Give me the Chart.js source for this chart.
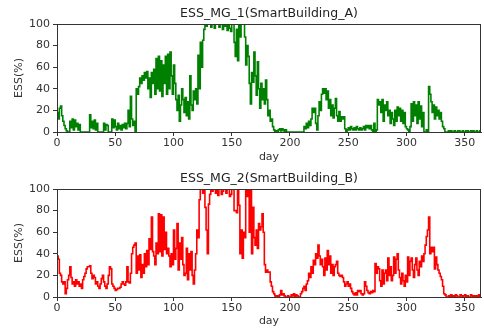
<!DOCTYPE html>
<html>
<head>
<meta charset="utf-8">
<script src="https://cdn.jsdelivr.net/npm/chart.js@4"></script>
<style>
html,body{margin:0;padding:0;background:#fff;}
canvas{display:block;}
#wrap1,#wrap2{width:484px;height:164px;position:relative;}
</style>
</head>
<body>
<div id="wrap1"><canvas id="c1" width="484" height="164"></canvas></div>
<div id="wrap2"><canvas id="c2" width="484" height="164"></canvas></div>
<script>
const titles = ["ESS_MG_1(SmartBuilding_A)", "ESS_MG_2(SmartBuilding_B)"];
const xTicks = [0, 50, 100, 150, 200, 250, 300, 350];
const yTicks = [0, 20, 40, 60, 80, 100];

const mg1 = [
18,12,22,24,15,10,6,3,1,0,
0,10,4,12,2,11,5,8,2,7,
0,0,0,0,0,0,0,0,16,4,
10,3,11,2,8,0,0,0,0,0,
8,2,7,6,0,0,0,12,4,11,
5,2,8,3,6,2,7,4,8,3,
8,20,5,33,12,6,10,0,40,35,
42,50,45,52,48,55,50,56,40,50,
32,55,45,58,35,68,40,70,38,66,
33,62,45,70,35,72,40,74,52,35,
62,45,30,20,34,10,25,40,30,18,
32,15,28,12,52,25,20,38,30,40,
26,71,40,83,60,85,95,100,98,100,
100,100,97,100,100,96,100,100,100,97,
100,100,95,100,98,100,94,100,96,93,
100,100,83,70,95,66,100,88,100,100,
100,88,62,80,70,45,26,55,46,74,
52,34,65,40,22,45,30,40,26,48,
30,15,20,10,12,5,2,0,1,0,
2,3,1,3,2,0,2,0,0,0,
0,0,0,0,0,0,0,0,0,0,
0,0,5,3,8,4,10,6,12,22,
18,22,8,2,15,28,20,35,40,36,
40,30,38,22,30,15,25,13,22,31,
15,10,19,10,14,12,14,3,0,2,
4,2,5,3,2,4,2,5,3,2,
4,2,3,5,2,6,4,6,3,6,
2,0,8,0,2,30,25,28,18,30,
10,25,20,28,15,20,8,18,12,6,
20,10,23,15,22,10,20,8,18,5,
3,2,0,5,26,10,28,15,25,8,
28,12,24,5,18,0,0,2,0,42,
35,28,18,25,12,23,15,20,12,18,
10,5,3,0,0,0,1,0,1,0,
0,1,0,0,1,1,0,0,1,0,
0,1,1,0,0,1,0,1,0,0,
1,0,0,1,0
];

const mg2 = [
38,35,22,20,14,12,14,3,8,16,
20,28,18,12,14,10,16,12,14,10,
12,8,16,19,22,26,28,28,29,22,
17,20,18,12,14,10,8,12,17,20,
14,10,8,12,20,28,26,12,10,8,
6,7,8,8,9,12,14,12,11,14,
28,14,13,22,40,46,48,50,22,38,
25,39,18,30,22,40,28,43,30,54,
44,74,42,38,30,50,40,77,42,76,
38,74,44,60,40,45,38,28,40,30,
62,35,45,68,25,50,35,55,30,20,
22,45,16,40,25,42,20,12,25,40,
62,55,90,100,100,96,100,83,62,40,
86,95,100,98,100,100,96,100,94,100,
100,95,98,100,100,96,100,100,93,95,
100,100,80,80,78,100,85,40,62,36,
60,55,100,93,100,60,100,40,83,55,
48,62,45,68,62,65,77,60,30,23,
25,23,23,14,10,5,3,1,0,1,
0,2,6,2,3,1,0,0,1,0,
0,2,1,3,0,2,1,0,0,3,
5,8,10,6,12,15,22,18,28,22,
34,30,40,36,48,38,30,35,28,20,
36,25,43,30,38,22,30,20,28,30,
33,22,20,19,20,18,14,10,12,14,
10,12,8,5,3,2,4,2,6,5,
6,3,2,3,14,10,6,4,3,5,
4,6,5,31,22,28,26,15,10,25,
12,22,25,15,36,20,28,15,20,37,
22,35,40,25,18,12,22,15,10,20,
14,37,20,33,36,25,18,30,36,25,
20,33,28,38,33,40,48,56,62,74,
40,46,42,46,26,37,30,25,22,19,
16,10,3,2,0,0,1,0,2,0,
1,0,2,1,0,0,2,1,0,1,
2,0,1,0,0,2,1,0,1,0,
1,0,2,0,0
];

const FONT = "'DejaVu Sans', sans-serif";
const TXT = '#333';

const frame = {
  id: 'frame',
  afterDatasetsDraw(chart) {
    const a = chart.chartArea, ctx = chart.ctx;
    ctx.save();
    ctx.strokeStyle = TXT;
    ctx.lineWidth = 1;
    ctx.strokeRect(Math.round(a.left) + 0.5, Math.round(a.top) + 0.5,
                   Math.round(a.right - a.left) - 1, Math.round(a.bottom - a.top));
    ctx.restore();
  }
};

function makeChart(id, title, values, color, titleTop, titleH, xH) {
  const pts = values.map((v, i) => ({x: i, y: v}));
  return new Chart(document.getElementById(id), {
    type: 'line',
    data: { datasets: [{ data: pts, borderColor: color, borderWidth: 1.6,
      pointRadius: 0, stepped: true, fill: false, tension: 0 }] },
    plugins: [frame],
    options: {
      responsive: false, animation: false,
      layout: { padding: { left: 0, right: 3, top: 0, bottom: 0 } },
      plugins: {
        legend: { display: false }, tooltip: { enabled: false },
        title: { display: true, text: title, fullSize: false, color: '#222',
          font: { family: FONT, size: 12.5, weight: 'normal' },
          padding: { top: titleTop, bottom: titleH - titleTop - 15 } }
      },
      scales: {
        x: {
          type: 'linear', min: 0, max: 364,
          afterBuildTicks: s => { s.ticks = xTicks.map(v => ({value: v})); },
          afterFit: s => { s.height = xH; },
          ticks: { color: TXT, font: { family: FONT, size: 11 }, padding: 1, maxRotation: 0, autoSkip: false },
          grid: { drawOnChartArea: false, drawTicks: true, tickLength: 4, color: TXT },
          border: { display: true, color: TXT },
          title: { display: true, text: 'day', color: TXT, font: { family: FONT, size: 11 }, padding: 0 }
        },
        y: {
          min: 0, max: 100,
          afterBuildTicks: s => { s.ticks = yTicks.map(v => ({value: v})); },
          afterFit: s => { s.width = 57; },
          ticks: { color: TXT, font: { family: FONT, size: 11 }, padding: 3 },
          grid: { drawOnChartArea: false, drawTicks: true, tickLength: 4, color: TXT },
          border: { display: true, color: TXT },
          title: { display: true, text: 'ESS(%)', color: TXT, font: { family: FONT, size: 11 }, padding: { top: 13, bottom: 0 } }
        }
      }
    }
  });
}

makeChart('c1', titles[0], mg1, '#008000', 6, 24, 32);
makeChart('c2', titles[1], mg2, '#ff0000', 7, 25, 31);
</script>
</body>
</html>
